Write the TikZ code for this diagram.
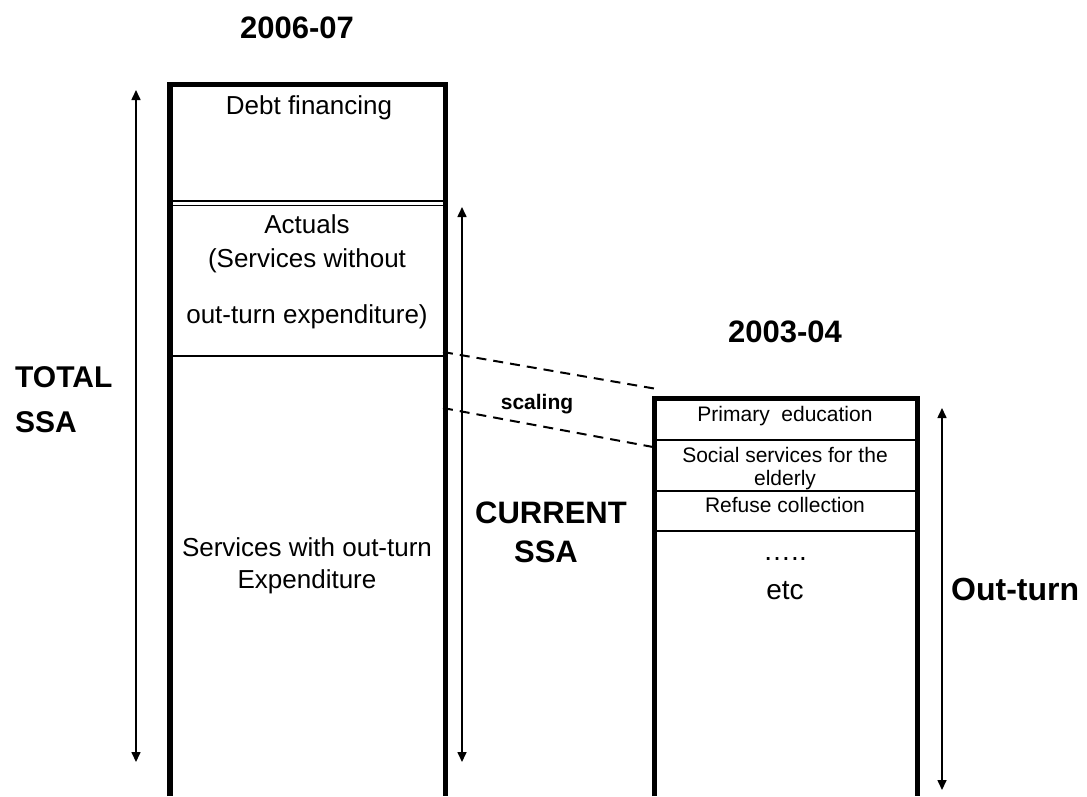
\documentclass[tikz,border=0pt]{standalone}
\usepackage{fontspec}
\setmainfont{Liberation Sans}
\usetikzlibrary{arrows.meta}
\begin{document}
\begin{tikzpicture}[x=1pt,y=-1pt,
  colwall/.style={line width=5.5pt, line cap=butt, line join=miter},
  divider/.style={line width=2pt},
  thindiv/.style={line width=1.5pt},
  dimarrow/.style={line width=1.6pt, {Triangle[length=10pt,width=9pt]}-{Triangle[length=10pt,width=9pt]}},
  scaleline/.style={line width=2pt, dash pattern=on 10pt off 7pt},
  lbl/.style={inner sep=0pt, anchor=base, font=\fontsize{26}{30}\selectfont},
  slbl/.style={inner sep=0pt, anchor=base, font=\fontsize{21}{25}\selectfont},
  elbl/.style={inner sep=0pt, anchor=base, font=\fontsize{28}{32}\selectfont},
  title/.style={inner sep=0pt, anchor=base, font=\fontsize{31}{34}\selectfont\bfseries},
  side/.style={inner sep=0pt, font=\fontsize{30}{34}\selectfont\bfseries},
  small/.style={inner sep=0pt, anchor=base, font=\fontsize{21}{25}\selectfont\bfseries}
]
\useasboundingbox (0,0) rectangle (1087,796);

% left column (2006-07)
\draw[colwall] (170,796) -- (170,84.5) -- (445.5,84.5) -- (445.5,796);
\draw[thindiv] (172.5,201) -- (443,201);
\draw[thindiv] (172.5,205.5) -- (443,205.5);
\draw[divider] (172.5,356) -- (443,356);

% right column (2003-04)
\draw[colwall] (654.5,796) -- (654.5,398.5) -- (917.5,398.5) -- (917.5,796);
\draw[divider] (657,440) -- (915,440);
\draw[divider] (657,491) -- (915,491);
\draw[divider] (657,531) -- (915,531);

% dimension arrows
\coordinate (tTop) at (136,90);
\coordinate (tBot) at (136,762);
\draw[dimarrow] (tBot) -- (tTop);
\coordinate (cTop) at (462,207);
\coordinate (cBot) at (462,762);
\draw[dimarrow] (cBot) -- (cTop);
\coordinate (oTop) at (942,408);
\coordinate (oBot) at (942,790);
\draw[dimarrow] (oBot) -- (oTop);

% scaling lines
\coordinate (s1a) at (443,352);
\coordinate (s1b) at (657,389);
\coordinate (s2a) at (443,408);
\coordinate (s2b) at (653,447);
\draw[scaleline] (s1a) -- (s1b);
\draw[scaleline] (s2a) -- (s2b);

% titles
\node[title] (y06) at (297,38) {2006-07};
\node[title] (y03) at (785,342) {2003-04};

% side labels
\node[side, anchor=base west] (tot1) at (15,387) {TOTAL};
\node[side, anchor=base west] (tot2) at (15,432) {SSA};
\node[side, anchor=base, font=\fontsize{31}{34}\selectfont\bfseries] (cur1) at (551,523) {CURRENT};
\node[side, anchor=base, font=\fontsize{31}{34}\selectfont\bfseries] (cur2) at (546,562) {SSA};
\node[side, anchor=base west, font=\fontsize{32}{34}\selectfont\bfseries] (out) at (951,600) {Out-turn};
\node[small] (scal) at (537,409) {scaling};

% left column texts
\node[lbl] (debt) at (309,114) {Debt financing};
\node[lbl] (act1) at (307,233) {Actuals};
\node[lbl] (act2) at (307,267) {(Services without};
\node[lbl] (act3) at (307,323) {out-turn expenditure)};
\node[lbl] (svc1) at (307,556) {Services with out-turn};
\node[lbl] (svc2) at (307,588) {Expenditure};

% right column texts
\node[slbl] (prim) at (785,421) {Primary\ \ education};
\node[slbl] (soc1) at (785,462) {Social services for the};
\node[slbl] (soc2) at (785,485) {elderly};
\node[slbl] (ref) at (785,512) {Refuse collection};
\node[elbl] (dots) at (785,560) {…..};
\node[elbl] (etc) at (785,599) {etc};
\end{tikzpicture}
\end{document}
